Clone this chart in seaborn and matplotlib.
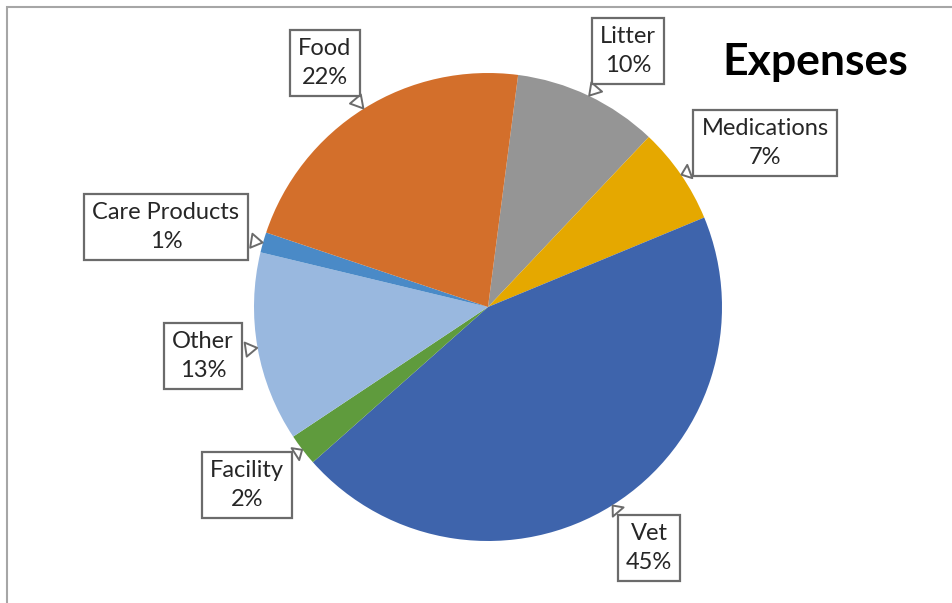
import numpy as np
import matplotlib
matplotlib.use("Agg")
import matplotlib.pyplot as plt
import seaborn as sns
from matplotlib.patches import Rectangle

# data (order is clockwise from just right of 12 o'clock)
labels = ["Litter", "Medications", "Vet", "Facility", "Other", "Care Products", "Food"]
values = [10.0, 6.7, 44.7, 2.2, 13.1, 1.4, 21.9]
colors = ["#959595", "#E5A800", "#3E64AC", "#5F9B3D", "#99B8DF", "#4A8AC7", "#D36F2B"]
# label box centres in pixels from the top-left corner
box_pos = {"Litter": (628, 51), "Medications": (765, 143), "Vet": (649, 548),
           "Facility": (247, 485), "Other": (203, 356), "Care Products": (166, 227),
           "Food": (325, 63)}

sns.set_theme(style="white")
plt.rcParams['font.family'] = ['Lato', 'DejaVu Sans']

W, H = 952, 603
fig = plt.figure(figsize=(W / 100, H / 100), dpi=100)
fig.patch.set_facecolor("white")

# pie axes: centre (488, 307), radius 234 px
cx, cy, r = 488, 307, 234
ax = fig.add_axes([(cx - r) / W, (H - cy - r) / H, 2 * r / W, 2 * r / H])

wedges, _ = ax.pie(values, colors=colors, startangle=82.6, counterclock=False,
                   radius=1.0, wedgeprops=dict(linewidth=0))
ax.set_xlim(-1, 1)
ax.set_ylim(-1, 1)
ax.set_aspect("equal")
ax.axis("off")

total = sum(values)
for w, lab, v in zip(wedges, labels, values):
    mid = np.deg2rad((w.theta1 + w.theta2) / 2)
    tip = (np.cos(mid) * 0.99, np.sin(mid) * 0.99)
    bx, by = box_pos[lab]
    ax.annotate(f"{lab}\n{round(v / total * 100):.0f}%", xy=tip, xycoords="data",
                xytext=(bx, H - by), textcoords="figure pixels",
                ha="center", va="center", fontsize=17, color="#262626",
                linespacing=1.45,
                bbox=dict(boxstyle="square,pad=0.35", fc="white", ec="#6b6b6b", lw=1.6),
                arrowprops=dict(arrowstyle="wedge,tail_width=0.6,shrink_factor=0.5",
                                fc="white", ec="#6b6b6b", lw=1.4))

fig.text(815 / W, 1 - 62 / H, "Expenses", ha="center", va="center",
         fontsize=32, fontweight="bold", color="black")

# chart frame, cut off at right and bottom
fig.patches.append(Rectangle((7 / W, -0.1), 1.1, 1 - 7 / H + 0.1,
                             transform=fig.transFigure, fill=False,
                             ec="#a6a6a6", lw=1.5))

fig.savefig("out.png", dpi=100)
